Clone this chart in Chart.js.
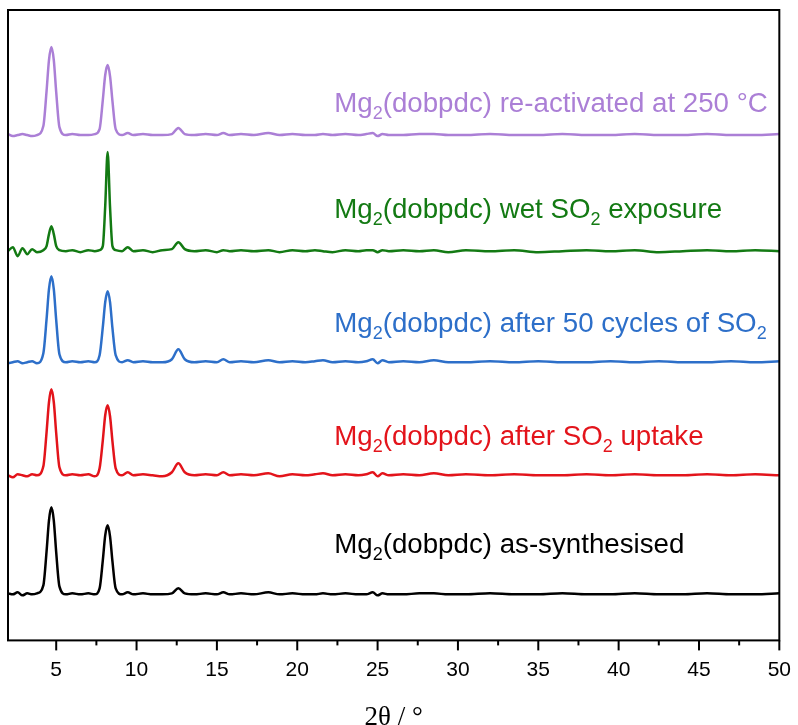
<!DOCTYPE html>
<html>
<head>
<meta charset="utf-8">
<script src="https://cdn.jsdelivr.net/npm/chart.js@4.4.0/dist/chart.umd.min.js"></script>
<style>
  html, body { margin: 0; padding: 0; background: #fff; }
  #wrap { width: 798px; height: 725px; }
</style>
</head>
<body>
<div id="wrap"><canvas id="xrdChart"></canvas></div>
<script>
// 2theta sample points (deg)
const twoTheta = [2.0,2.3,2.6,2.9,3.2,3.5,3.8,4.2,4.4,4.55,4.7,4.85,5.0,5.2,5.6,6.0,6.5,7.0,7.4,7.7,
  7.9,8.05,8.2,8.35,8.5,8.7,9.1,9.45,9.8,10.4,11.0,11.6,12.2,12.6,13.0,13.6,14.3,15.0,15.4,15.8,
  16.5,17.3,18.2,18.9,19.7,20.5,21.1,21.6,22.2,23.0,23.8,24.3,24.7,25.0,25.3,25.7,26.6,27.6,28.5,29.4,
  30.5,32.0,33.5,35.0,36.5,38.0,39.5,41.0,42.5,44.0,45.5,47.0,48.5,50.0];

// intensities (arb. units) above each pattern's own baseline
const asSynth = [1,0,2,-1,1,0,1,9,43,74, 87,74,42,8,0,1,0,1,0,6, 34,59,69,58,33,6,0,2,0,1,
  0,0,1,6,1,0,1,0,2,0, 1,0,2,0,1,0,0,1,0,1, 0,0,2,-1,1,0,0,1,1,0, 0,1,0,0,1,0,0,1,0,0, 1,0,0,1];
const afterUptake = [0,-2,1,0,-1,1,0,9,43,73, 86,73,42,8,0,1,0,1,-1,7, 35,60,70,59,34,7,0,3,0,1,
  0,-1,3,12,3,0,1,0,3,0, 1,0,2,-1,1,0,1,2,0,1, 0,1,3,-1,2,0,1,0,2,0, 1,0,1,0,0,1,0,1,0,0, 1,0,1,0];
const after50 = [-1,0,1,-1,0,1,-1,9,43,73, 86,73,42,8,0,1,0,1,0,7, 35,60,71,60,34,7,0,2,0,1,
  0,0,3,13,3,0,1,0,3,0, 1,0,2,0,1,0,1,2,0,1, 0,1,3,-1,2,0,1,0,2,0, 0,1,0,1,0,0,1,0,1,0, 0,1,0,1];
const wetSO2 = [0,4,-5,3,-3,2,-1,1,5,17, 25,17,5,1,0,1,-1,1,0,1, 5,45,99,44,5,1,0,4,0,1,
  -1,1,2,9,2,0,1,-1,1,0, 1,0,1,-1,1,0,1,0,-1,1, 0,1,1,-1,1,0,1,0,1,-1, 1,0,1,-1,0,1,0,1,-1,0, 1,0,1,0];
const reactivated = [1,-1,0,1,0,-1,0,9,44,75, 88,75,43,8,0,1,0,0,1,6, 35,60,70,59,34,6,0,2,0,1,
  0,0,1,7,1,0,1,0,2,0, 1,0,2,0,1,0,0,1,0,1, 0,1,2,-1,1,0,0,1,1,0, 0,1,0,0,1,0,0,1,0,0, 1,0,0,1];

// vertical stacking offsets of the patterns
const offsets = [46, 165, 278, 389, 505];
const patterns = [asSynth, afterUptake, after50, wetSO2, reactivated];
const colors = ['#000000', '#e3141b', '#2d6fc9', '#137a13', '#ab7fd6'];
// label pieces: [text, isSubscript]
const labels = [
  [['Mg',0],['2',1],['(dobpdc) as-synthesised',0]],
  [['Mg',0],['2',1],['(dobpdc) after SO',0],['2',1],[' uptake',0]],
  [['Mg',0],['2',1],['(dobpdc) after 50 cycles of SO',0],['2',1]],
  [['Mg',0],['2',1],['(dobpdc) wet SO',0],['2',1],[' exposure',0]],
  [['Mg',0],['2',1],['(dobpdc) re-activated at 250 °C',0]]
];

const datasets = patterns.map((p, i) => ({
  data: twoTheta.map((x, j) => ({ x: x, y: p[j] + offsets[i] })),
  borderColor: colors[i],
  borderWidth: 2.5,
  pointRadius: 0,
  cubicInterpolationMode: 'monotone'
}));

const framePlugin = {
  id: 'frame',
  afterDraw(chart) {
    const { ctx, chartArea: a, scales: { x } } = chart;
    ctx.save();
    ctx.strokeStyle = '#000';
    ctx.lineWidth = 2;
    ctx.strokeRect(a.left, a.top, a.right - a.left, a.bottom - a.top);
    // major/minor ticks
    x.ticks.forEach(t => {
      if (t.value % 2.5 !== 0) return;
      const px = x.getPixelForValue(t.value);
      const len = t.value % 5 === 0 ? 10 : 5;
      ctx.beginPath();
      ctx.moveTo(px, a.bottom);
      ctx.lineTo(px, a.bottom + len);
      ctx.stroke();
    });
    ctx.restore();
  }
};

const labelPlugin = {
  id: 'seriesLabels',
  afterDatasetsDraw(chart, args, opts) {
    const { ctx, scales: { x, y } } = chart;
    ctx.save();
    ctx.textBaseline = 'alphabetic';
    labels.forEach((parts, i) => {
      let px = x.getPixelForValue(opts.xStart);
      const py = y.getPixelForValue(opts.yPos[i]);
      ctx.fillStyle = colors[i];
      parts.forEach(([txt, sub]) => {
        ctx.font = sub ? '18px "Liberation Sans"' : '27.7px "Liberation Sans"';
        ctx.fillText(txt, px, sub ? py + 7 : py);
        px += ctx.measureText(txt).width;
      });
    });
    ctx.restore();
  }
};

new Chart(document.getElementById('xrdChart'), {
  type: 'line',
  data: { datasets },
  options: {
    responsive: true,
    maintainAspectRatio: false,
    animation: false,
    layout: { padding: { left: 8, right: 16, top: 10, bottom: -9 } },
    plugins: {
      legend: { display: false },
      tooltip: { enabled: false },
      seriesLabels: { xStart: 22.3, yPos: [87, 195, 308, 422, 528] }
    },
    scales: {
      x: {
        type: 'linear', min: 2, max: 50,
        grid: { display: true, drawOnChartArea: false, drawTicks: true, tickLength: 10, tickColor: 'rgba(0,0,0,0)' },
        border: { display: false },
        ticks: {
          stepSize: 2.5, autoSkip: false, maxRotation: 0, padding: 7,
          color: '#000', font: { family: 'Liberation Sans', size: 21 },
          callback: v => (v % 5 === 0 ? v : '')
        },
        title: {
          display: true, text: '2θ / °', color: '#000',
          font: { family: 'Liberation Serif', size: 27 },
          padding: { top: 12, bottom: 0 }
        }
      },
      y: { display: false, min: 0, max: 630 }
    }
  },
  plugins: [framePlugin, labelPlugin]
});
</script>
</body>
</html>
